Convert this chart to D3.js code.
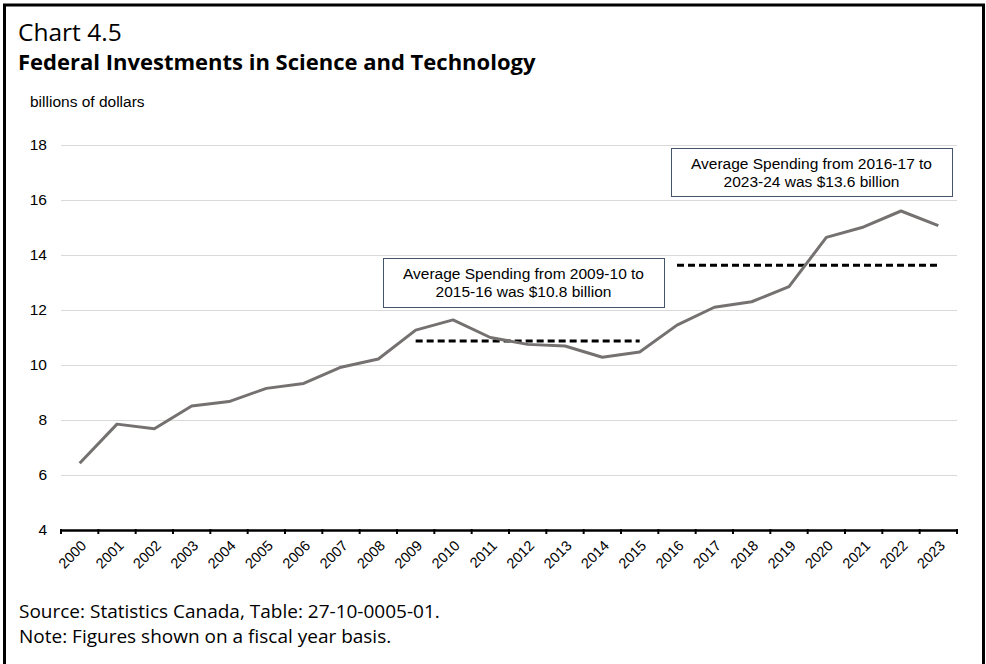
<!DOCTYPE html>
<html>
<head>
<meta charset="utf-8">
<script src="https://cdn.jsdelivr.net/npm/d3@7"></script>
<style>
  body { margin: 0; background: #fff; }
  svg { display: block; }
</style>
</head>
<body>
<div id="chart"></div>
<script>
// chart data
const years = ["2000", "2001", "2002", "2003", "2004", "2005", "2006", "2007", "2008", "2009", "2010", "2011",
    "2012", "2013", "2014", "2015", "2016", "2017", "2018", "2019", "2020", "2021", "2022", "2023"];
const spending = [6.43, 7.85, 7.68, 8.51, 8.67, 9.15, 9.33, 9.92, 10.22, 11.27, 11.64, 11.0,
    10.75, 10.69, 10.28, 10.47, 11.45, 12.1, 12.3, 12.85, 14.64, 15.02, 15.6, 15.07];
const yTicks = [4, 6, 8, 10, 12, 14, 16, 18];

// average periods (dashed lines)
const avgStart = ["2009", "2016"];
const avgEnd = ["2015", "2023"];
const avgValue = [10.87, 13.63];
const avgText = [
    ["Average Spending from 2009-10 to", "2015-16 was $10.8 billion"],
    ["Average Spending from 2016-17 to", "2023-24 was $13.6 billion"]
];

const W = 986, H = 664;
const plot = { left: 61, right: 957, top: 145, bottom: 530 };
const arial = "'Liberation Sans', Arial, sans-serif";
const segoe = "'Open Sans', 'Noto Sans', sans-serif";

const svg = d3.select("#chart").append("svg")
    .attr("width", W)
    .attr("height", H);

// outer frame (open at the bottom, like the reference crop)
svg.append("rect")
    .attr("x", 4.5).attr("y", 5)
    .attr("width", 979).attr("height", 720)
    .attr("fill", "none")
    .attr("stroke", "#000")
    .attr("stroke-width", 3);

svg.append("text")
    .attr("x", 18).attr("y", 41)
    .style("font-family", segoe)
    .style("font-size", "24.5px")
    .text("Chart 4.5");

svg.append("text")
    .attr("x", 18).attr("y", 70)
    .style("font-family", segoe)
    .style("font-size", "22px")
    .style("font-weight", "bold")
    .text("Federal Investments in Science and Technology");

svg.append("text")
    .attr("x", 30).attr("y", 107)
    .style("font-family", arial)
    .style("font-size", "15.5px")
    .text("billions of dollars");

const x = d3.scaleBand().domain(years).range([plot.left, plot.right]).padding(0);
const y = d3.scaleLinear().domain([4, 18]).range([plot.bottom, plot.top]);
const cx = d => x(d) + x.bandwidth() / 2;

// y gridlines + labels
const yAxis = svg.append("g")
    .attr("transform", `translate(${plot.left},0)`)
    .call(d3.axisLeft(y).tickValues(yTicks).tickSize(-(plot.right - plot.left)).tickPadding(14));
yAxis.select(".domain").remove();
yAxis.selectAll(".tick line").attr("stroke", "#d9d9d9").attr("stroke-width", 1);
yAxis.selectAll(".tick text")
    .style("font-family", arial)
    .style("font-size", "15.5px")
    .attr("fill", "#000");

// x axis
const xAxis = svg.append("g")
    .attr("transform", `translate(0,${plot.bottom})`)
    .call(d3.axisBottom(x).tickSize(0).tickFormat(""));
xAxis.select(".domain").attr("stroke", "#000").attr("stroke-width", 2.5);
xAxis.selectAll(".tick").remove();

const tickPos = years.map(d => x(d)).concat([plot.right]);
xAxis.selectAll(".xtick")
    .data(tickPos)
    .enter().append("line")
    .attr("class", "xtick")
    .attr("x1", d => d).attr("x2", d => d)
    .attr("y1", -1).attr("y2", 4)
    .attr("stroke", "#000")
    .attr("stroke-width", 2);

xAxis.selectAll(".xlabel")
    .data(years)
    .enter().append("text")
    .attr("class", "xlabel")
    .attr("transform", d => `translate(${cx(d) + 4},${13}) rotate(-45)`)
    .attr("text-anchor", "end")
    .attr("dy", "0.35em")
    .attr("fill", "#000")
    .style("font-family", arial)
    .style("font-size", "14.5px")
    .text(d => d);

// average dashed lines
avgValue.forEach((v, i) => {
    svg.append("line")
        .attr("x1", cx(avgStart[i])).attr("x2", cx(avgEnd[i]))
        .attr("y1", y(v)).attr("y2", y(v))
        .attr("stroke", "#000")
        .attr("stroke-width", 3)
        .attr("stroke-dasharray", "7,4");
});

// the series
const line = d3.line()
    .x((d, i) => cx(years[i]))
    .y(d => y(d));

svg.append("path")
    .datum(spending)
    .attr("d", line)
    .attr("fill", "none")
    .attr("stroke", "#767171")
    .attr("stroke-width", 3)
    .attr("stroke-linejoin", "round");

// annotation boxes
const boxes = [
    { x: 383, y: 258, w: 281, h: 49 },
    { x: 671, y: 148, w: 281, h: 48 }
];
boxes.forEach((b, i) => {
    const g = svg.append("g").attr("transform", `translate(${b.x},${b.y})`);
    g.append("rect")
        .attr("x", 0.5).attr("y", 0.5)
        .attr("width", b.w).attr("height", b.h)
        .attr("fill", "#fff")
        .attr("stroke", "#44546a")
        .attr("stroke-width", 1);
    g.selectAll("text")
        .data(avgText[i])
        .enter().append("text")
        .attr("x", b.w / 2)
        .attr("y", (d, j) => 21 + j * 18)
        .attr("text-anchor", "middle")
        .style("font-family", arial)
        .style("font-size", "15.5px")
        .text(d => d);
});

// footnotes
svg.append("text")
    .attr("x", 19).attr("y", 618)
    .style("font-family", segoe)
    .style("font-size", "19px")
    .text("Source: Statistics Canada, Table: 27-10-0005-01.");

svg.append("text")
    .attr("x", 19).attr("y", 643)
    .style("font-family", segoe)
    .style("font-size", "19px")
    .text("Note: Figures shown on a fiscal year basis.");
</script>
</body>
</html>
